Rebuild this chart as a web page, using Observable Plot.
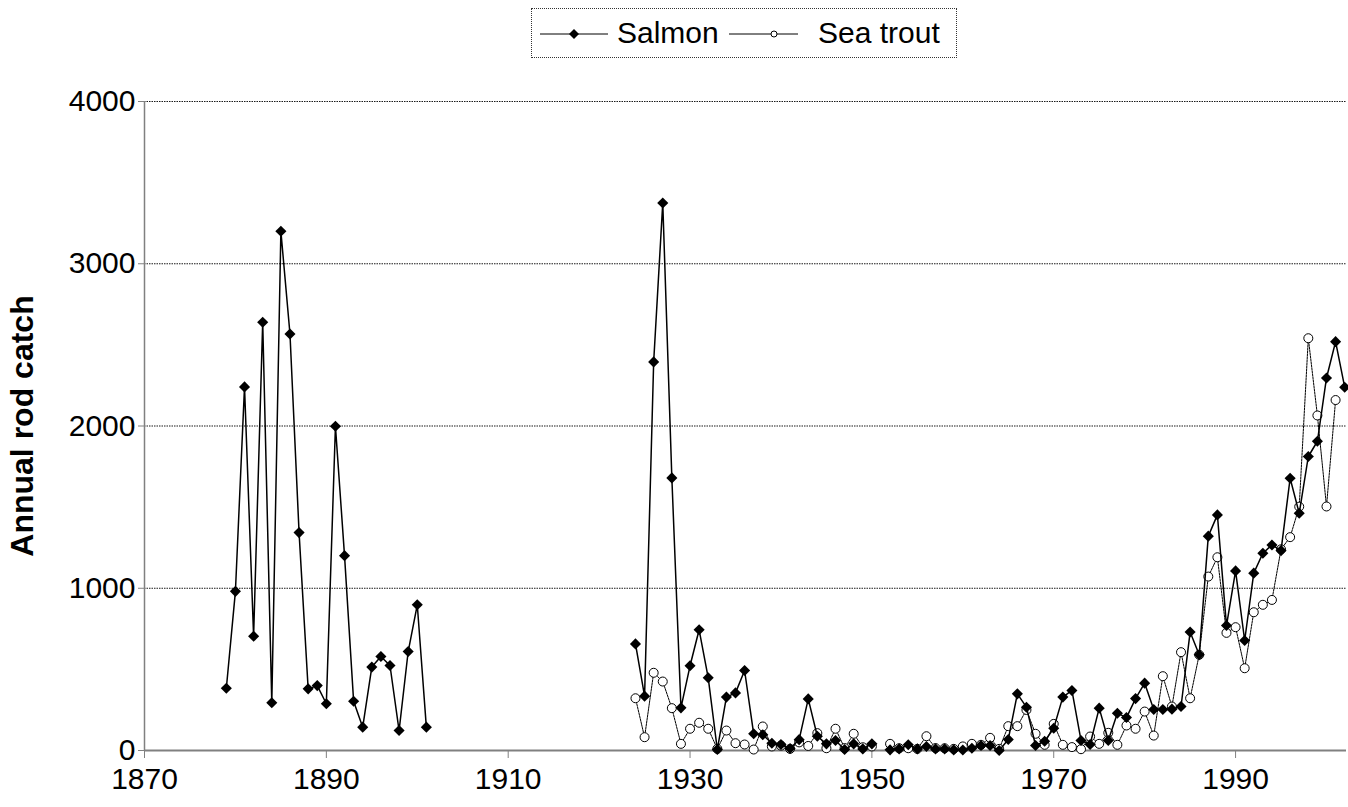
<!DOCTYPE html>
<html>
<head>
<meta charset="utf-8">
<script src="https://cdn.jsdelivr.net/npm/d3@7"></script>
<script src="https://cdn.jsdelivr.net/npm/@observablehq/plot@0.6"></script>
<style>
  body { margin: 0; background: #fff; font-family: "Liberation Sans", Arial, sans-serif; }
  #wrap { position: relative; width: 1348px; height: 807px; overflow: hidden; }
  #legend { position: relative; width: 1348px; height: 70px; }
  #box { position: absolute; left: 531px; top: 8px; width: 424px; height: 48px; border: 1px dotted #333; }
  #box svg { position: absolute; left: 0; top: 0; }
  .lab { position: absolute; top: 6px; font-size: 30px; line-height: 36px; color: #000; white-space: nowrap; }
  #chart svg { display: block; }
</style>
</head>
<body>
<div id="wrap">
  <div id="legend">
    <div id="box">
      <svg width="424" height="48">
        <line x1="8" y1="25" x2="76" y2="25" stroke="#000" stroke-width="1"></line>
        <path d="M42,20 L47,25 L42,30 L37,25 Z" fill="#000"></path>
        <line x1="197" y1="25" x2="266" y2="25" stroke="#000" stroke-width="1"></line>
        <circle cx="242" cy="25" r="3" fill="#fff" stroke="#000" stroke-width="1"></circle>
      </svg>
      <span class="lab" id="l1" style="left:85px"></span>
      <span class="lab" id="l2" style="left:286px"></span>
    </div>
  </div>
  <div id="chart"></div>
</div>
<script>
// ---- data ----
const seriesNames = ["Salmon", "Sea trout"];
const yLabel = "Annual rod catch";
const xTicks = [1870, 1890, 1910, 1930, 1950, 1970, 1990];
const yTicks = [0, 1000, 2000, 3000, 4000];

// Salmon, first record period 1879-1901
const salmonEarlyStart = 1879;
const salmonEarly = [384, 981, 2241, 704, 2639, 294, 3200, 2567, 1343, 380, 400, 288, 1998, 1201, 304, 144, 514, 579, 524, 123, 610, 898, 144];

// Second record period starts 1924 (null = no record)
const lateStart = 1924;
const salmonLate = [
  657, 335, 2395, 3374, 1680, 263,
  522, 744, 448, 6, 329, 355, 493, 103, 97, 45,
  37, 12, 67, 318, 88, 41, 62, 6, 41, 10,
  41, null, 4, 10, 35, 10, 25, 10, 10, 4,
  3, 14, 31, 31, 0, 68, 349, 267, 31, 57,
  137, 329, 370, 62, 37, 261, 62, 230, 203, 320,
  415, 253, 253, 255, 271, 730, 590, 1321, 1452, 770,
  1107, 678, 1093, 1216, 1267, 1232, 1678, 1462, 1812, 1906,
  2296, 2520, 2239
];
const seaTrout = [
  322, 82, 479, 425, 261, 41,
  134, 171, 134, 10, 123, 45, 37, 6, 148, 25,
  30, 10, 50, 28, 107, 14, 134, 15, 103, 20,
  25, null, 41, 14, 14, 10, 88, 15, 14, 10,
  25, 41, 35, 78, 10, 150, 150, 250, 103, 35,
  164, 35, 21, 8, 86, 41, 109, 35, 154, 134,
  240, 92, 458, 271, 606, 322, 590, 1072, 1191, 725,
  760, 507, 852, 898, 928, 1240, 1315, 1503, 2541, 2065,
  1504, 2160
];

// ---- build tables ----
const salmon = [];
salmonEarly.forEach((v, i) => salmon.push({year: salmonEarlyStart + i, value: v}));
salmon.push({year: salmonEarlyStart + salmonEarly.length, value: NaN}); // break between record periods
salmonLate.forEach((v, i) => salmon.push({year: lateStart + i, value: v == null ? NaN : v}));
const trout = seaTrout.map((v, i) => ({year: lateStart + i, value: v == null ? NaN : v}));

document.getElementById("l1").textContent = seriesNames[0];
document.getElementById("l2").textContent = seriesNames[1];

const chart = Plot.plot({
  width: 1348,
  height: 737,
  marginLeft: 144,
  marginRight: 2,
  marginTop: 31,
  marginBottom: 57,
  style: {fontFamily: "Liberation Sans, Arial, sans-serif", fontSize: "30px", color: "#000", background: "#fff"},
  x: {domain: [1870, 2002.2], label: null},
  y: {domain: [0, 4000], label: null},
  marks: [
    Plot.gridY(yTicks.filter(d => d > 0), {stroke: "#000", strokeOpacity: 0.9, strokeDasharray: "1.5,1"}),
    Plot.axisY({ticks: yTicks, label: null, tickSize: 6, tickPadding: 3, tickFormat: d => String(d), fontSize: 30, stroke: "#808080", fill: "#000"}),
    Plot.axisX({ticks: xTicks, label: null, tickSize: 8, tickPadding: 9, tickFormat: d => String(d), fontSize: 30, stroke: "#808080", fill: "#000"}),
    Plot.ruleX([1870], {stroke: "#808080", strokeWidth: 1.5}),
    Plot.ruleY([0], {stroke: "#808080", strokeWidth: 2}),
    Plot.lineY(trout, {x: "year", y: "value", stroke: "#000", strokeWidth: 1, strokeDasharray: "2,1"}),
    Plot.dot(trout, {x: "year", y: "value", symbol: "circle", r: 4.5, fill: "#fff", stroke: "#000", strokeWidth: 1}),
    Plot.lineY(salmon, {x: "year", y: "value", stroke: "#000", strokeWidth: 1.5}),
    Plot.dot(salmon, {x: "year", y: "value", symbol: "diamond2", r: 5, fill: "#000"}),
    Plot.text([yLabel], {frameAnchor: "left", textAnchor: "middle", rotate: -90, dx: -122, fontSize: 32, fontWeight: "bold"})
  ]
});
document.getElementById("chart").appendChild(chart);
</script>
</body>
</html>
